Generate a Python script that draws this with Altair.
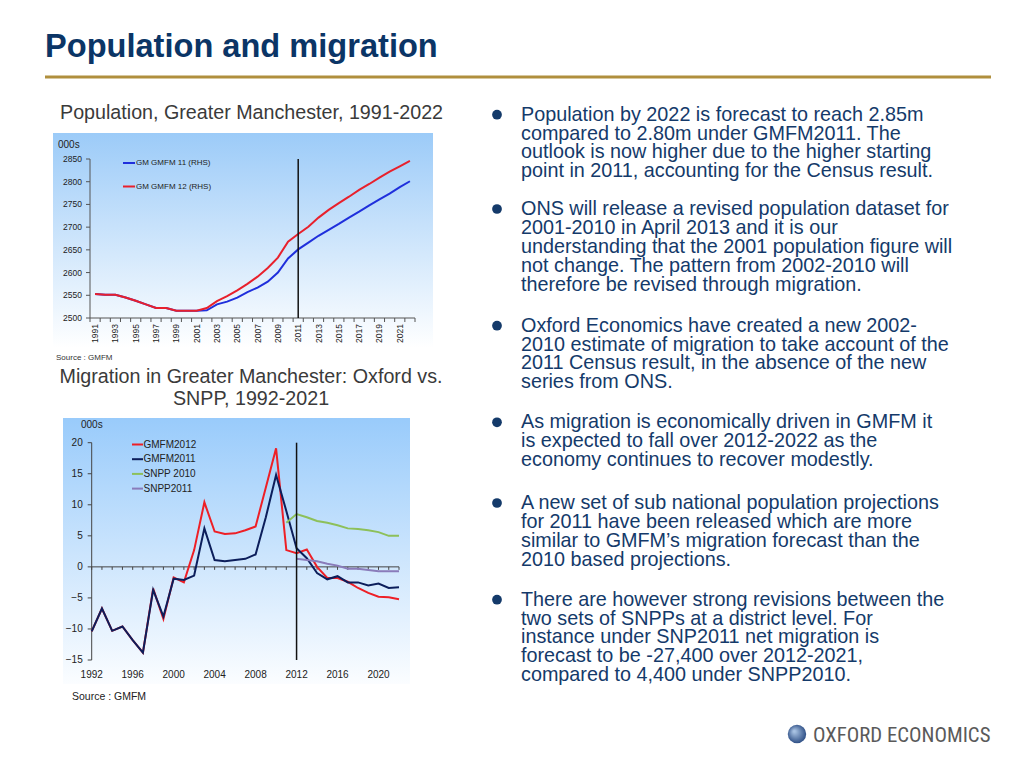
import altair as alt
import pandas as pd

# ---------------- data ----------------
pop_years = list(range(1991, 2023))
gm_gmfm11 = [2553, 2551, 2551, 2545, 2538, 2530, 2522, 2522, 2516, 2516, 2516,
             2517, 2530, 2536, 2545, 2557, 2567, 2580, 2600, 2631, 2651, 2666,
             2681, 2694, 2707, 2721, 2734, 2748, 2761, 2774, 2788, 2801]
gm_gmfm12 = [2553, 2551, 2551, 2545, 2538, 2530, 2522, 2522, 2516, 2516, 2516,
             2522, 2537, 2548, 2561, 2575, 2591, 2610, 2633, 2668, 2685, 2701,
             2721, 2738, 2753, 2767, 2782, 2795, 2809, 2822, 2834, 2846]
pop_y_ticks = [2500, 2550, 2600, 2650, 2700, 2750, 2800, 2850]
pop_x_labels = list(range(1991, 2022, 2))
pop_marker_year = 2011

mig_years = list(range(1992, 2023))
gmfm2012 = [-10.4, -6.7, -10.3, -9.6, -11.8, -13.8, -3.5, -8.4, -1.7, -2.5, 2.7,
            10.4, 5.7, 5.3, 5.4, 5.9, 6.5, 12.8, 19.1, 2.7, 2.2,
            2.8, 0.0, -1.8, -1.8, -2.4, -3.4, -4.2, -4.8, -4.9, -5.2]
gmfm2011 = [-10.4, -6.7, -10.3, -9.6, -11.8, -13.8, -3.7, -8.0, -1.9, -2.1, -1.4,
            6.2, 1.1, 0.9, 1.1, 1.3, 2.0, 8.0, 14.8, 9.0, 3.0,
            1.4, -1.0, -2.0, -1.5, -2.5, -2.5, -3.0, -2.7, -3.4, -3.3]
snpp2010_years = list(range(2011, 2023))
snpp2010 = [7.1, 8.5, 8.0, 7.4, 7.1, 6.7, 6.2, 6.1, 5.9, 5.6, 5.0, 5.0]
snpp2011_years = list(range(2012, 2023))
snpp2011 = [1.3, 1.1, 0.9, 0.5, 0.2, -0.3, -0.3, -0.5, -0.7, -0.7, -0.7]
mig_y_ticks = [-15, -10, -5, 0, 5, 10, 15, 20]
mig_x_labels = [1992, 1996, 2000, 2004, 2008, 2012, 2016, 2020]
mig_marker_year = 2012

title_text = "Population and migration"
pop_title = "Population, Greater Manchester, 1991-2022"
mig_title = "Migration in Greater Manchester: Oxford vs.\nSNPP, 1992-2021"
pop_legend = ["GM GMFM 11 (RHS)", "GM GMFM 12 (RHS)"]
mig_legend = ["GMFM2012", "GMFM2011", "SNPP 2010", "SNPP2011"]
source_text = "Source : GMFM"
units_text = "000s"
logo_text = "OXFORD ECONOMICS"
bullets = [
    ["Population by 2022 is forecast to reach 2.85m",
     "compared to 2.80m under GMFM2011. The",
     "outlook is now higher due to the higher starting",
     "point in 2011, accounting for the Census result."],
    ["ONS will release a revised population dataset for",
     "2001-2010 in April 2013 and it is our",
     "understanding that the 2001 population figure will",
     "not change. The pattern from 2002-2010 will",
     "therefore be revised through migration."],
    ["Oxford Economics have created a new 2002-",
     "2010 estimate of migration to take account of the",
     "2011 Census result, in the absence of the new",
     "series from ONS."],
    ["As migration is economically driven in GMFM it",
     "is expected to fall over 2012-2022 as the",
     "economy continues to recover modestly."],
    ["A new set of sub national population projections",
     "for 2011 have been released which are more",
     "similar to GMFM\u2019s migration forecast than the",
     "2010 based projections."],
    ["There are however strong revisions between the",
     "two sets of SNPPs at a district level. For",
     "instance  under SNP2011 net migration is",
     "forecast to be -27,400 over 2012-2021,",
     "compared to 4,400 under SNPP2010."],
]

# ---------------- layout / style ----------------
O = 8  # page margin


def px(v):
    return v - O


FONT = "Liberation Sans"
NAVY = "#0b3566"
TEXT_NAVY = "#143a6a"
GREY_TEXT = "#3a3a3a"

one = pd.DataFrame({"k": [0]})


def gradient(top, bottom):
    return {"gradient": "linear", "x1": 0, "x2": 0, "y1": 0, "y2": 1,
            "stops": [{"offset": 0, "color": top}, {"offset": 1, "color": bottom}]}


def text_layer(txt, x, y, size, color, align="left", baseline="alphabetic",
               bold=False, font=FONT, line_height=None):
    kw = dict(align=align, baseline=baseline, fontSize=size, color=color, font=font,
              fontWeight="bold" if bold else "normal", lineBreak="\n")
    if line_height:
        kw["lineHeight"] = line_height
    return alt.Chart(one).mark_text(**kw).encode(
        x=alt.value(px(x)), y=alt.value(px(y)), text=alt.value(txt))


layers = []

# backgrounds
layers.append(alt.Chart(one).mark_rect(fill=gradient("#9ccbf8", "#ffffff")).encode(
    x=alt.value(px(53)), x2=alt.value(px(433)), y=alt.value(px(133)), y2=alt.value(px(348))))
layers.append(alt.Chart(one).mark_rect(fill=gradient("#99cbfb", "#fbfdff")).encode(
    x=alt.value(px(63)), x2=alt.value(px(410)), y=alt.value(px(418)), y2=alt.value(px(684))))

# slide title and rule
layers.append(text_layer(title_text, 45, 57, 32.6, NAVY, bold=True))
layers.append(alt.Chart(one).mark_rule(color="#b08f3d", strokeWidth=3).encode(
    x=alt.value(px(45)), x2=alt.value(px(991)), y=alt.value(px(77))))

# ---------- top chart ----------
tx = alt.Scale(domain=[1990.5, 2022.5], range=[px(90), px(415)], zero=False, nice=False)
ty = alt.Scale(domain=[2500, 2850], range=[px(318), px(159)], zero=False, nice=False)
AX = "#555555"

pop_df11 = pd.DataFrame({"year": pop_years, "value": gm_gmfm11})
pop_df12 = pd.DataFrame({"year": pop_years, "value": gm_gmfm12})

axis_top = pd.DataFrame({"x": [1990.5], "x2": [2022.5], "y": [2500], "y2": [2850]})
layers.append(alt.Chart(axis_top).mark_rule(color=AX, strokeWidth=1).encode(
    x=alt.X("x:Q", scale=tx, axis=None), y=alt.Y("y:Q", scale=ty, axis=None),
    y2="y2:Q"))
layers.append(alt.Chart(axis_top).mark_rule(color=AX, strokeWidth=1).encode(
    x=alt.X("x:Q", scale=tx, axis=None), x2="x2:Q",
    y=alt.Y("y:Q", scale=ty, axis=None)))
ytick_df = pd.DataFrame({"v": pop_y_ticks, "x": [1990.5] * len(pop_y_ticks)})
layers.append(alt.Chart(ytick_df).mark_rule(color=AX, strokeWidth=1, x2Offset=-4).encode(
    x=alt.X("x:Q", scale=tx, axis=None), x2="x:Q", y=alt.Y("v:Q", scale=ty, axis=None)))
layers.append(alt.Chart(ytick_df).mark_text(align="right", baseline="middle", dx=-8,
                                             fontSize=8.5, font=FONT, color="#222").encode(
    x=alt.X("x:Q", scale=tx, axis=None), y=alt.Y("v:Q", scale=ty, axis=None),
    text=alt.Text("v:Q")))
xb = [1990.5 + k for k in range(33)]
xtick_df = pd.DataFrame({"x": xb, "y": [2500] * len(xb)})
layers.append(alt.Chart(xtick_df).mark_rule(color=AX, strokeWidth=1, y2Offset=4).encode(
    x=alt.X("x:Q", scale=tx, axis=None), y=alt.Y("y:Q", scale=ty, axis=None), y2="y:Q"))
xl_df = pd.DataFrame({"x": pop_x_labels, "y": [2500] * len(pop_x_labels),
                      "t": [str(v) for v in pop_x_labels]})
layers.append(alt.Chart(xl_df).mark_text(angle=270, align="right", baseline="middle", dx=-6,
                                          fontSize=8.5, font=FONT, color="#222").encode(
    x=alt.X("x:Q", scale=tx, axis=None), y=alt.Y("y:Q", scale=ty, axis=None),
    text="t:N"))

layers.append(alt.Chart(pop_df11).mark_line(color="#1f2fdc", strokeWidth=2).encode(
    x=alt.X("year:Q", scale=tx, axis=None), y=alt.Y("value:Q", scale=ty, axis=None)))
layers.append(alt.Chart(pop_df12).mark_line(color="#e8202c", strokeWidth=2).encode(
    x=alt.X("year:Q", scale=tx, axis=None), y=alt.Y("value:Q", scale=ty, axis=None)))

vline_top = pd.DataFrame({"x": [pop_marker_year], "y": [2500], "y2": [2850]})
layers.append(alt.Chart(vline_top).mark_rule(color="#111", strokeWidth=1.5).encode(
    x=alt.X("x:Q", scale=tx, axis=None), y=alt.Y("y:Q", scale=ty, axis=None), y2="y2:Q"))

# legend top
for i, (lab, col) in enumerate(zip(pop_legend, ["#1f2fdc", "#e8202c"])):
    yy = 163 + i * 23.5
    layers.append(alt.Chart(one).mark_rule(color=col, strokeWidth=2).encode(
        x=alt.value(px(123)), x2=alt.value(px(135)), y=alt.value(px(yy))))
    layers.append(text_layer(lab, 136, yy, 8, "#222", baseline="middle"))

layers.append(text_layer(units_text, 58, 145, 10, "#222", baseline="middle"))
layers.append(text_layer(source_text, 56, 360, 8, "#333"))
layers.append(text_layer(pop_title, 60, 119.3, 19.7, GREY_TEXT))

# ---------- bottom chart ----------
bx = alt.Scale(domain=[1992, 2022], range=[px(91.7), px(399)], zero=False, nice=False)
by = alt.Scale(domain=[-15, 20], range=[px(660), px(442.7)], zero=False, nice=False)
AX2 = "#444444"

axis_b = pd.DataFrame({"x": [1992], "x2": [2022], "y": [-15], "y2": [20], "z": [0]})
layers.append(alt.Chart(axis_b).mark_rule(color=AX2, strokeWidth=1).encode(
    x=alt.X("x:Q", scale=bx, axis=None), y=alt.Y("y:Q", scale=by, axis=None), y2="y2:Q"))
layers.append(alt.Chart(axis_b).mark_rule(color=AX2, strokeWidth=1).encode(
    x=alt.X("x:Q", scale=bx, axis=None), x2="x2:Q", y=alt.Y("z:Q", scale=by, axis=None)))
bytick = pd.DataFrame({"v": mig_y_ticks, "x": [1992] * len(mig_y_ticks)})
layers.append(alt.Chart(bytick).mark_rule(color=AX2, strokeWidth=1, x2Offset=-4).encode(
    x=alt.X("x:Q", scale=bx, axis=None), x2="x:Q", y=alt.Y("v:Q", scale=by, axis=None)))
layers.append(alt.Chart(bytick).mark_text(align="right", baseline="middle", dx=-9,
                                           fontSize=10, font=FONT, color="#222").encode(
    x=alt.X("x:Q", scale=bx, axis=None), y=alt.Y("v:Q", scale=by, axis=None),
    text=alt.Text("v:Q")))
bxtick = pd.DataFrame({"x": mig_years, "y": [0] * len(mig_years)})
layers.append(alt.Chart(bxtick).mark_rule(color=AX2, strokeWidth=1, y2Offset=3).encode(
    x=alt.X("x:Q", scale=bx, axis=None), y=alt.Y("y:Q", scale=by, axis=None), y2="y:Q"))
bxl = pd.DataFrame({"x": mig_x_labels, "y": [-15] * len(mig_x_labels),
                    "t": [str(v) for v in mig_x_labels]})
layers.append(alt.Chart(bxl).mark_text(align="center", baseline="alphabetic", dy=18,
                                        fontSize=10, font=FONT, color="#222").encode(
    x=alt.X("x:Q", scale=bx, axis=None), y=alt.Y("y:Q", scale=by, axis=None), text="t:N"))

mig_series = [
    (mig_years, gmfm2012, "#ee1f26"),
    (mig_years, gmfm2011, "#0c1e5b"),
    (snpp2010_years, snpp2010, "#8dc05a"),
    (snpp2011_years, snpp2011, "#8a7cba"),
]
for yrs, vals, col in mig_series:
    d = pd.DataFrame({"year": yrs, "value": vals})
    layers.append(alt.Chart(d).mark_line(color=col, strokeWidth=2).encode(
        x=alt.X("year:Q", scale=bx, axis=None), y=alt.Y("value:Q", scale=by, axis=None)))

vline_b = pd.DataFrame({"x": [mig_marker_year], "y": [-15], "y2": [20]})
layers.append(alt.Chart(vline_b).mark_rule(color="#111", strokeWidth=1.5).encode(
    x=alt.X("x:Q", scale=bx, axis=None), y=alt.Y("y:Q", scale=by, axis=None), y2="y2:Q"))

for i, (lab, col) in enumerate(zip(mig_legend, ["#ee1f26", "#0c1e5b", "#8dc05a", "#8a7cba"])):
    yy = 444.5 + i * 14.7
    layers.append(alt.Chart(one).mark_rule(color=col, strokeWidth=2).encode(
        x=alt.value(px(132)), x2=alt.value(px(143)), y=alt.value(px(yy))))
    layers.append(text_layer(lab, 143.5, yy, 10, "#222", baseline="middle"))

layers.append(text_layer(units_text, 81, 425, 10, "#222", baseline="middle"))
layers.append(text_layer(source_text, 72, 700, 10.5, "#222"))
layers.append(text_layer(mig_title, 251, 383.3, 19.7, GREY_TEXT, align="center",
                         line_height=21.7))

# ---------- bullets ----------
bullet_baselines = [120.7, 215, 331.7, 428.3, 509, 605.7]
for lines, base in zip(bullets, bullet_baselines):
    layers.append(alt.Chart(one).mark_circle(size=95, color=TEXT_NAVY, opacity=1).encode(
        x=alt.value(px(497)), y=alt.value(px(base - 6))))
    layers.append(text_layer("\n".join(lines), 521, base, 19.8, TEXT_NAVY,
                             line_height=18.9))

# ---------- logo ----------
globe = {"gradient": "radial", "x1": 0.35, "y1": 0.35, "r1": 0.05,
         "x2": 0.5, "y2": 0.5, "r2": 0.6,
         "stops": [{"offset": 0, "color": "#a9c3e3"}, {"offset": 1, "color": "#1c3e78"}]}
layers.append(alt.Chart(one).mark_point(filled=True, shape="circle", size=340, fill=globe,
                                        opacity=1, strokeWidth=0).encode(
    x=alt.value(px(797)), y=alt.value(px(734))))
layers.append(text_layer(logo_text, 813, 742, 20.8, "#5a5a5a",
                         font="Liberation Sans Narrow, Roboto Condensed, Roboto"))

chart = alt.layer(*layers).resolve_scale(x="independent", y="independent").properties(
    width=1008, height=752, autosize=alt.AutoSizeParams(type="none"), padding=0,
    background="white"
).configure_view(stroke=None)

chart.save("out.html", embed_options={"renderer": "svg", "actions": False})
